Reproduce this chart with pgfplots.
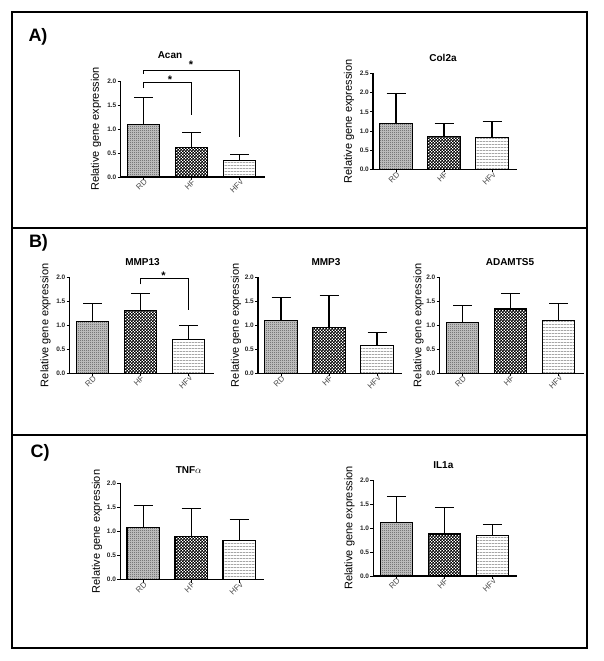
\documentclass[border=0pt]{standalone}
\usepackage{fontspec}
\setmainfont{Liberation Sans}
\usepackage{pgfplots}
\pgfplotsset{compat=1.18}
\usetikzlibrary{patterns}

\pgfdeclarepatternformonly{finecheck}{\pgfqpoint{0pt}{0pt}}{\pgfqpoint{2pt}{2pt}}{\pgfqpoint{2pt}{2pt}}{%
  \pgfpathrectangle{\pgfqpoint{0pt}{0pt}}{\pgfqpoint{1pt}{1pt}}%
  \pgfpathrectangle{\pgfqpoint{1pt}{1pt}}{\pgfqpoint{1pt}{1pt}}%
  \pgfusepath{fill}}
\pgfdeclarepatternformonly{midcheck}{\pgfqpoint{0pt}{0pt}}{\pgfqpoint{3.4pt}{3.4pt}}{\pgfqpoint{3.4pt}{3.4pt}}{%
  \pgfpathrectangle{\pgfqpoint{0pt}{0pt}}{\pgfqpoint{1.8pt}{1.8pt}}%
  \pgfpathrectangle{\pgfqpoint{1.7pt}{1.7pt}}{\pgfqpoint{1.8pt}{1.8pt}}%
  \pgfusepath{fill}}
\pgfdeclarepatternformonly{hlinesp}{\pgfqpoint{0pt}{0pt}}{\pgfqpoint{3pt}{3pt}}{\pgfqpoint{3pt}{3pt}}{%
  \pgfpathrectangle{\pgfqpoint{0pt}{0pt}}{\pgfqpoint{3pt}{1pt}}%
  \pgfusepath{fill}}

\pgfplotsset{
  gp/.style={
    anchor=south west, scale only axis, width=144pt,
    xmin=-0.48, xmax=2.52, ymin=0,
    axis lines*=left, xtick pos=bottom, ytick pos=left,
    axis line style={line width=1.1pt, -},
    xtick={0,1,2}, xticklabels={RD,HF,HFv},
    tick align=outside, major tick length=3pt,
    every tick/.style={black, line width=0.9pt},
    xticklabel style={font=\fontsize{8}{9}\selectfont, text=black!70, xshift=3pt, rotate=45, anchor=east, inner sep=1pt},
    yticklabel style={font=\bfseries\fontsize{6.5}{7}\selectfont, text=black!85, inner sep=1pt,
      /pgf/number format/fixed, /pgf/number format/fixed zerofill,
      /pgf/number format/precision=1, /pgf/number format/assume math mode=true},
    clip=false,
  },
  bar base/.style={ybar, bar width=32.5pt, bar shift=0pt, draw=black, line width=1.1pt,
    error bars/y dir=plus, error bars/y explicit,
    error bars/error bar style={line width=1.1pt, black, solid},
    error bars/error mark options={rotate=90, mark size=9.5pt, line width=1.1pt, black}},
  rd/.style={bar base, preaction={fill=gray!40}, pattern=finecheck, pattern color=black!70},
  hf/.style={bar base, preaction={fill=white}, pattern=midcheck, pattern color=black},
  hfv/.style={bar base, preaction={fill=white}, pattern=hlinesp, pattern color=gray!70},
  brk/.style={black, line width=1.1pt, mark=none, sharp plot},
}

\newcommand{\ttl}[1]{\bfseries\fontsize{10}{12}\selectfont #1}
\newcommand{\ylab}{\fontsize{11}{13}\selectfont Relative gene expression}
\newcommand{\pnl}[1]{\bfseries\fontsize{18}{20}\selectfont #1}
\tikzset{yl/.style={rotate=90, inner sep=0pt}}

\begin{document}
\begin{tikzpicture}
\path[use as bounding box, fill=white] (0pt,0pt) rectangle (603pt,661pt);

% panel frames
\draw[line width=1.8pt] (12pt,649pt) rectangle (587pt,433pt);
\draw[line width=1.8pt] (12pt,433pt) rectangle (587pt,226pt);
\draw[line width=1.8pt] (12pt,226pt) rectangle (587pt,13pt);

\node at (38pt,624pt) {\pnl{A)}};
\node at (38.5pt,418.5pt) {\pnl{B)}};
\node at (40pt,208.5pt) {\pnl{C)}};

% ---------- Acan ----------
\begin{axis}[gp, at={(120.5pt,484pt)}, height=96pt, ymax=2, ytick={0,0.5,1,1.5,2}]
\addplot[rd] coordinates {(0,1.10) +- (0,0.55)};
\addplot[hf] coordinates {(1,0.61) +- (0,0.31)};
\addplot[hfv] coordinates {(2,0.35) +- (0,0.12)};
\addplot[brk] coordinates {(0,1.85) (0,1.97) (1,1.97) (1,1.29)};
\addplot[brk] coordinates {(0,2.15) (0,2.22) (2,2.22) (2,0.83)};
\node[font=\bfseries\fontsize{11}{12}\selectfont, inner sep=0pt] at (axis cs:0.55,2.03) {*};
\node[font=\bfseries\fontsize{11}{12}\selectfont, inner sep=0pt] at (axis cs:0.99,2.33) {*};
\end{axis}
\node at (170pt,606pt) {\ttl{Acan}};
\node[yl] at (96pt,532pt) {\ylab};

% ---------- Col2a ----------
\begin{axis}[gp, at={(373pt,491.5pt)}, height=96pt, ymax=2.5, ytick={0,0.5,1,1.5,2,2.5}]
\addplot[rd] coordinates {(0,1.19) +- (0,0.79)};
\addplot[hf] coordinates {(1,0.87) +- (0,0.32)};
\addplot[hfv] coordinates {(2,0.84) +- (0,0.42)};
\end{axis}
\node at (443pt,603pt) {\ttl{Col2a}};
\node[yl] at (349pt,539.5pt) {\ylab};

% ---------- MMP13 ----------
\begin{axis}[gp, at={(69.5pt,287.7pt)}, height=96pt, ymax=2, ytick={0,0.5,1,1.5,2}]
\addplot[rd] coordinates {(0,1.07) +- (0,0.38)};
\addplot[hf] coordinates {(1,1.31) +- (0,0.36)};
\addplot[hfv] coordinates {(2,0.70) +- (0,0.30)};
\addplot[brk] coordinates {(1,1.85) (1,1.98) (2,1.98) (2,1.32)};
\node[font=\bfseries\fontsize{11}{12}\selectfont, inner sep=0pt] at (axis cs:1.48,2.04) {*};
\end{axis}
\node at (142.5pt,398.7pt) {\ttl{MMP13}};
\node[yl] at (45.5pt,335.7pt) {\ylab};

% ---------- MMP3 ----------
\begin{axis}[gp, at={(258pt,287.7pt)}, height=96pt, ymax=2, ytick={0,0.5,1,1.5,2}]
\addplot[rd] coordinates {(0,1.10) +- (0,0.47)};
\addplot[hf] coordinates {(1,0.95) +- (0,0.67)};
\addplot[hfv] coordinates {(2,0.58) +- (0,0.27)};
\end{axis}
\node at (326pt,398.7pt) {\ttl{MMP3}};
\node[yl] at (236pt,335.7pt) {\ylab};

% ---------- ADAMTS5 ----------
\begin{axis}[gp, at={(439.5pt,287.7pt)}, height=96pt, ymax=2, ytick={0,0.5,1,1.5,2}]
\addplot[rd] coordinates {(0,1.05) +- (0,0.36)};
\addplot[hf] coordinates {(1,1.34) +- (0,0.33)};
\addplot[hfv] coordinates {(2,1.10) +- (0,0.35)};
\end{axis}
\node at (510pt,398.7pt) {\ttl{ADAMTS5}};
\node[yl] at (418.5pt,335.7pt) {\ylab};

% ---------- TNFa ----------
\begin{axis}[gp, at={(120.2pt,81.3pt)}, height=96.5pt, ymax=2, ytick={0,0.5,1,1.5,2}]
\addplot[rd] coordinates {(0,1.08) +- (0,0.46)};
\addplot[hf] coordinates {(1,0.89) +- (0,0.59)};
\addplot[hfv] coordinates {(2,0.82) +- (0,0.43)};
\end{axis}
\node at (188.7pt,191pt) {\ttl{TNF$\alpha$}};
\node[yl] at (97pt,129.5pt) {\ylab};

% ---------- IL1a ----------
\begin{axis}[gp, at={(373.3pt,85pt)}, height=96pt, ymax=2, ytick={0,0.5,1,1.5,2}]
\addplot[rd] coordinates {(0,1.12) +- (0,0.53)};
\addplot[hf] coordinates {(1,0.875) +- (0,0.545)};
\addplot[hfv] coordinates {(2,0.84) +- (0,0.24)};
\end{axis}
\node at (443.3pt,196pt) {\ttl{IL1a}};
\node[yl] at (349.5pt,133pt) {\ylab};
\end{tikzpicture}
\end{document}
